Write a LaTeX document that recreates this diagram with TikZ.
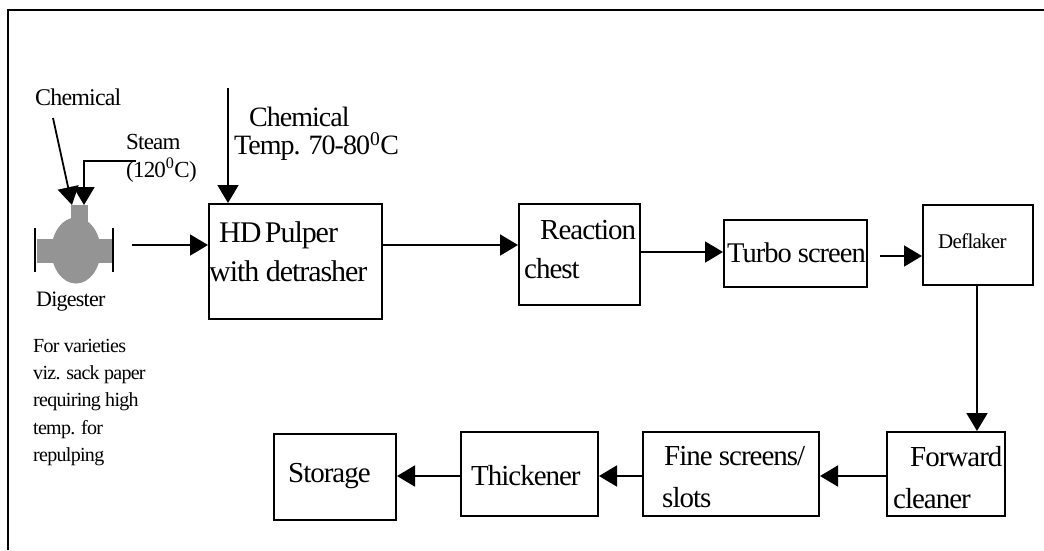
\documentclass[tikz,border=0pt]{standalone}
\usepackage{fontspec}
\setmainfont[LetterSpace=-3.5]{Liberation Serif}
\usetikzlibrary{arrows.meta}
\tikzset{
  x=1pt,y=1pt,
  procbox/.style={draw=black,line width=2pt,fill=white,inner sep=0pt,anchor=north west},
  lbl/.style={inner sep=0pt,anchor=west,align=left},
  flow/.style={draw=black,line width=1.8pt,-{Triangle[length=18pt,width=21pt]}},
  vessel/.style={fill=black!42,draw=none}
}
\begin{document}
\begin{tikzpicture}
\useasboundingbox (0,0) rectangle (1044,-550);
\fill[white] (0,0) rectangle (1044,-550);
\draw[line width=2pt] (8,-550) -- (8,-10) -- (1044,-10);
% digester
\fill[vessel] (71,-205) rectangle (88,-230);
\fill[vessel] (37,-239) rectangle (112,-263);
\fill[vessel] (76,-250.5) ellipse [x radius=24.5,y radius=33];
\draw[line width=1.8pt] (35,-228) -- (35,-272);
\draw[line width=1.8pt] (113,-228) -- (113,-272);
\coordinate (dig) at (72,-205);
\coordinate (dig2) at (84,-205);
\coordinate (digout) at (132,-245);
\coordinate (chemstart) at (53,-118);
\coordinate (steamstart) at (136,-161);
\coordinate (steamcorner) at (84,-161);
\coordinate (chem2) at (228,-88);
\node[lbl,font=\fontsize{24}{24}\selectfont] (t1) at (35,-97) {Chemical};
\node[lbl,font=\fontsize{23}{28}\selectfont,anchor=north west] (t2) at (126,-134) {Steam\\(120\textsuperscript{0}C)};
\node[lbl,font=\fontsize{22}{24}\selectfont] (t3) at (36,-302) {Digester};
\node[lbl,font=\fontsize{20}{27.2}\selectfont,anchor=north west] (t4) at (33,-339) {For varieties\\viz. sack paper\\requiring high\\temp. for\\repulping};
\node[lbl,font=\fontsize{28}{28}\selectfont,anchor=north west] (t5) at (234,-107) {\hspace*{15pt}Chemical\\Temp. 70-80\textsuperscript{0}C};
% boxes
\node[procbox,minimum width=173pt,minimum height=115pt] (pulper) at (208,-203) {};
\node[lbl,font=\fontsize{30}{39}\selectfont,anchor=north west] (pulpert) at (209,-221) {\hspace*{10pt}HD\kern-3pt{} Pulper\\with detrasher};
\node[procbox,minimum width=121pt,minimum height=101pt] (chest) at (518,-203) {};
\node[lbl,font=\fontsize{29}{39}\selectfont,anchor=north west] (chestt) at (524,-220) {\hspace*{16pt}Reaction\\chest};
\node[procbox,minimum width=143pt,minimum height=67pt] (turbo) at (723,-219) {};
\node[lbl,font=\fontsize{28.5}{33}\selectfont] (turbot) at (727,-253) {Turbo screen};
\node[procbox,minimum width=110pt,minimum height=80pt] (defl) at (922,-204) {};
\node[lbl,font=\fontsize{21}{24}\selectfont] (deflt) at (938,-241) {Deflaker};
\node[procbox,minimum width=118pt,minimum height=84pt] (fwd) at (886,-431) {};
\node[lbl,font=\fontsize{29}{42}\selectfont,anchor=north west] (fwdt) at (893,-446) {\hspace*{17pt}Forward\\cleaner};
\node[procbox,minimum width=176pt,minimum height=84pt] (fine) at (642,-431) {};
\node[lbl,font=\fontsize{29}{42}\selectfont,anchor=north west] (finet) at (662,-446) {\hspace*{2pt}Fine screens/\\slots};
\node[procbox,minimum width=137pt,minimum height=84pt] (thick) at (460,-431) {};
\node[lbl,font=\fontsize{29}{33}\selectfont] (thickt) at (471,-476) {Thickener};
\node[procbox,minimum width=122pt,minimum height=86pt] (stor) at (273,-433) {};
\node[lbl,font=\fontsize{29}{33}\selectfont] (stort) at (288,-476) {Storage};
% connectors
\draw[flow] (chemstart) -- (dig);
\draw[flow] (steamstart) -- (steamcorner) -- (dig2);
\draw[flow] (digout) -- (pulper.west |- digout);
\draw[flow] (chem2) -- (chem2 |- pulper.north);
\draw[flow] (pulper.east |- 0,-245) -- (chest.west |- 0,-245);
\draw[flow] (chest.east |- 0,-252) -- (turbo.west |- 0,-252);
\draw[flow] (turbo.east |- 0,-256) ++(12,0) -- (defl.west |- 0,-256);
\draw[flow] (defl.south -| 977,0) -- (fwd.north -| 977,0);
\draw[flow] (fwd.west |- 0,-476) -- (fine.east |- 0,-476);
\draw[flow] (fine.west |- 0,-476) -- (thick.east |- 0,-476);
\draw[flow] (thick.west |- 0,-476) -- (stor.east |- 0,-476);
\end{tikzpicture}
\end{document}
